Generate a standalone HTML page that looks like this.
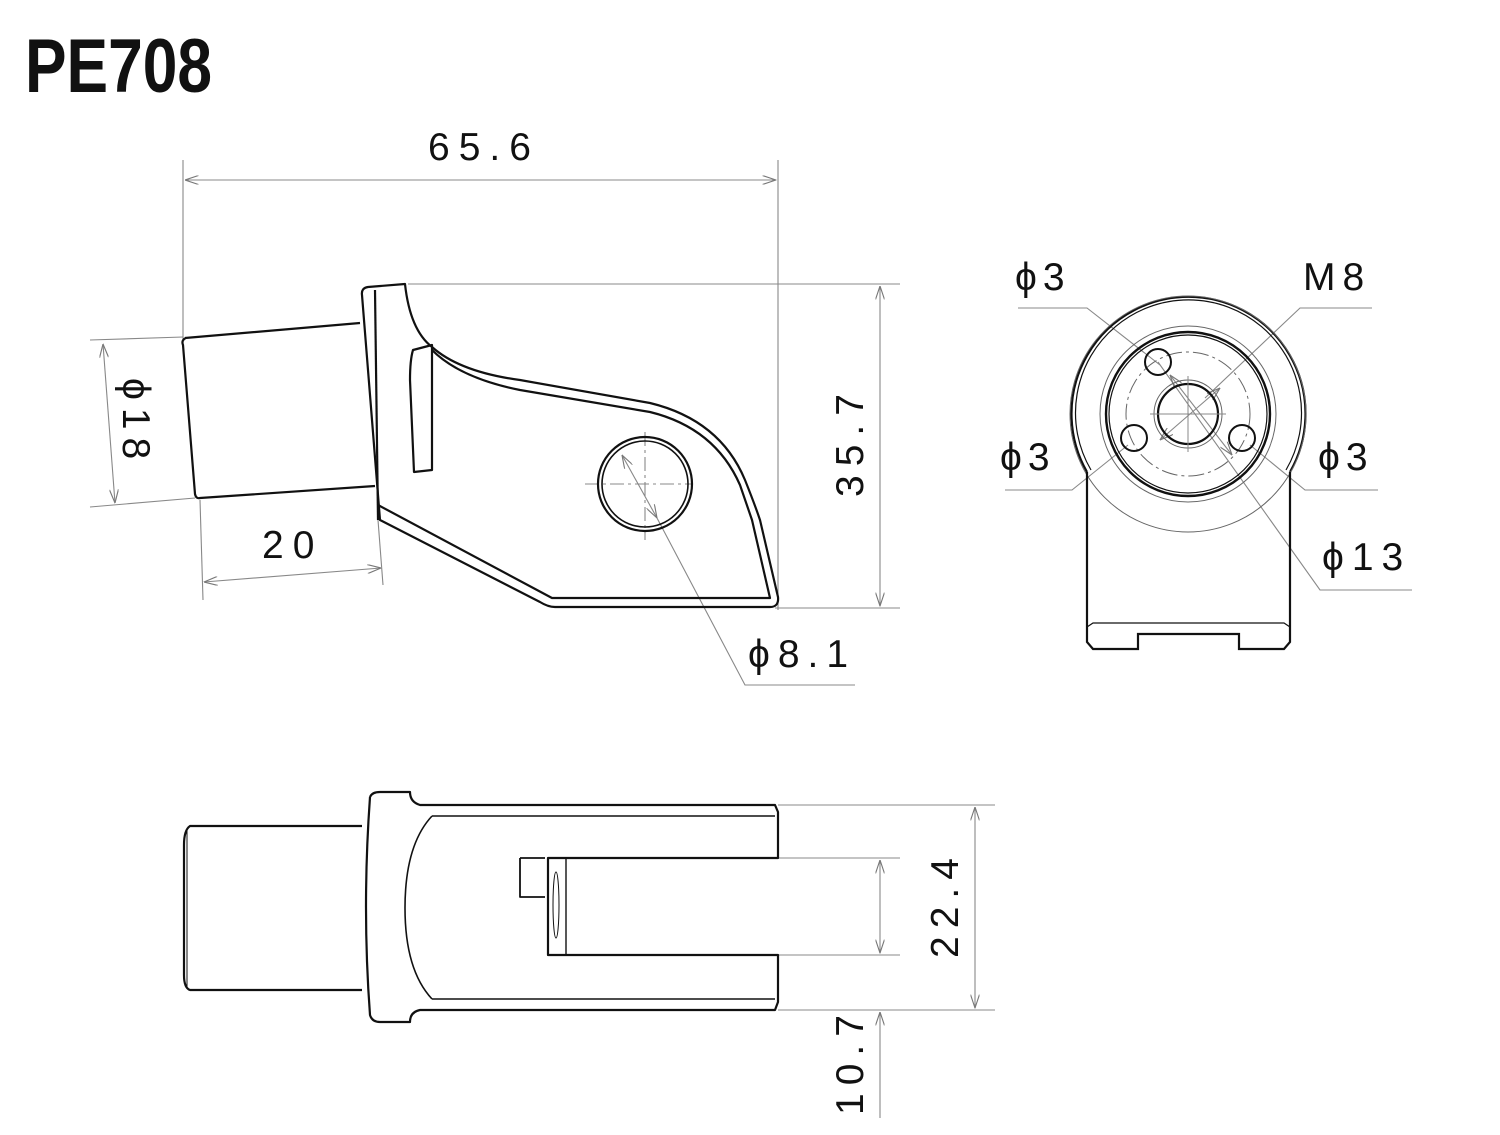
<!DOCTYPE html>
<html><head><meta charset="utf-8"><style>
html,body{margin:0;padding:0;background:#fff;}
svg{display:block}
text{font-family:"Liberation Sans",sans-serif;fill:#111}
</style></head><body>
<svg width="1500" height="1135" viewBox="0 0 1500 1135" xmlns="http://www.w3.org/2000/svg">
<defs>
<marker id="a" viewBox="0 0 12 8" refX="12" refY="4" markerWidth="14" markerHeight="9" orient="auto-start-reverse" markerUnits="userSpaceOnUse"><path d="M0,0 L12,4 L0,8" fill="none" stroke="#777" stroke-width="1"/></marker>
</defs>
<text x="25" y="92" font-size="76" font-weight="bold" textLength="187" lengthAdjust="spacingAndGlyphs">PE708</text>

<g stroke="#888" stroke-width="1.1" fill="none">
<line x1="183" y1="160" x2="183" y2="340"/>
<line x1="778" y1="160" x2="778" y2="610"/>
<line x1="185" y1="180" x2="776" y2="180" marker-start="url(#a)" marker-end="url(#a)"/>
<line x1="408" y1="284" x2="900" y2="284"/>
<line x1="775" y1="608" x2="900" y2="608"/>
<line x1="880" y1="286" x2="880" y2="606" marker-start="url(#a)" marker-end="url(#a)"/>
<line x1="90" y1="340" x2="183" y2="337"/>
<line x1="90" y1="507" x2="195" y2="498"/>
<line x1="103" y1="344" x2="115" y2="503" marker-start="url(#a)" marker-end="url(#a)"/>
<line x1="200" y1="500" x2="203" y2="600"/>
<line x1="378" y1="520" x2="383" y2="585"/>
<line x1="204" y1="582" x2="381" y2="568" marker-start="url(#a)" marker-end="url(#a)"/>
<line x1="622" y1="455" x2="657" y2="518" marker-start="url(#a)" marker-end="url(#a)"/>
<polyline points="657,518 745,685 855,685"/>
<line x1="585" y1="484" x2="692" y2="484" stroke-dasharray="14,4,3,4"/>
<line x1="645" y1="432" x2="645" y2="540" stroke-dasharray="14,4,3,4"/>

<polyline points="1018,308 1087,308 1160,365"/>
<polyline points="1372,308 1300,308 1205,398"/>
<polyline points="1005,490 1072,490 1128,445"/>
<polyline points="1378,490 1305,490 1250,445"/>
<polyline points="1158,362 1320,590 1412,590"/>
<line x1="1170" y1="375" x2="1232" y2="455" marker-start="url(#a)" marker-end="url(#a)"/>
<line x1="1160" y1="440" x2="1220" y2="388" marker-start="url(#a)" marker-end="url(#a)"/>

<line x1="778" y1="805" x2="995" y2="805"/>
<line x1="778" y1="1010" x2="995" y2="1010"/>
<line x1="975" y1="807" x2="975" y2="1008" marker-start="url(#a)" marker-end="url(#a)"/>
<line x1="778" y1="858" x2="900" y2="858"/>
<line x1="778" y1="955" x2="900" y2="955"/>
<line x1="880" y1="860" x2="880" y2="953" marker-start="url(#a)" marker-end="url(#a)"/>
<line x1="880" y1="1012" x2="880" y2="1118" marker-start="url(#a)"/>
</g>

<g stroke="#111" stroke-width="2.2" fill="none" stroke-linejoin="round">
<path d="M185,338 L360,323 M186,338 Q181,340 183,345 L195,494 Q196,499 200,498 L375,486"/>
<path d="M362,295 Q361,288 368,287 L405,284 Q410,330 432,347 Q460,372 520,380 L650,403 Q720,420 745,480 Q755,505 760,520 L778,597 Q779,607 770,607 L555,607 Q548,607 540,602 L380,520 L362,295"/>
<path d="M432,350 Q460,378 520,390 L650,412 Q715,428 740,485 L752,520 L770,598 L552,598 L378,505"/>
<path d="M413,350 Q410,360 410,380 L414,472 L432,470 L432,345 Z"/>
<line x1="375" y1="290" x2="378" y2="520"/>
<circle cx="645" cy="484" r="47"/>
<circle cx="645" cy="484" r="43" stroke-width="1.6"/>
</g>

<g stroke="#111" fill="none">
<path d="M1087,472 A117,117 0 1 1 1290,472" stroke-width="2.2"/>
<path d="M1091,470 A113,113 0 1 1 1286,470" stroke-width="1.2"/>
<circle cx="1188" cy="414" r="118" stroke-width="1" stroke="#666"/>
<circle cx="1188" cy="414" r="88" stroke-width="1" stroke="#666"/>
<circle cx="1188" cy="414" r="82" stroke-width="2.4"/>
<circle cx="1188" cy="414" r="79" stroke-width="1.2"/>
<circle cx="1188" cy="414" r="62" stroke-width="1" stroke="#666" stroke-dasharray="16,4,3,4"/>
<circle cx="1188" cy="414" r="30" stroke-width="2.2"/>
<circle cx="1188" cy="414" r="34" stroke-width="1" stroke="#666"/>
<circle cx="1158" cy="362" r="13" stroke-width="2"/>
<circle cx="1134" cy="438" r="13" stroke-width="2"/>
<circle cx="1242" cy="438" r="13" stroke-width="2"/>
<path d="M1087,472 L1087,642 L1093,649 L1138,649 L1138,634 L1239,634 L1239,649 L1284,649 L1290,642 L1290,472" stroke-width="2.2"/>
<path d="M1087,627 L1093,623 L1284,623 L1290,627" stroke-width="1.2"/>
<g stroke="#888" stroke-width="1"><line x1="1150" y1="414" x2="1226" y2="414"/><line x1="1188" y1="376" x2="1188" y2="452"/></g>
</g>

<g stroke="#111" stroke-width="2.2" fill="none" stroke-linejoin="round">
<path d="M362,826 L190,826 Q184,830 184,845 L184,975 Q184,988 190,990 L362,990"/>
<line x1="187" y1="828" x2="187" y2="988" stroke-width="1"/>
<path d="M370,797 Q372,792 380,792 L410,792 Q410,802 420,805 L432,805 L775,805 L778,812 L778,858 L548,858 L548,955 L778,955 L778,1002 L775,1010 L432,1010 L420,1010 Q410,1012 410,1022 L380,1022 Q372,1022 370,1015 Q362,908 370,797"/>
<line x1="432" y1="816" x2="775" y2="816" stroke-width="1.6"/>
<line x1="432" y1="999" x2="775" y2="999" stroke-width="1.6"/>
<path d="M432,816 Q405,845 405,908 Q405,970 432,999" stroke-width="1.6"/>
<path d="M520,858 L545,858 M520,858 L520,897 L545,897" stroke-width="1.8"/>
<line x1="566" y1="858" x2="566" y2="955" stroke-width="1.4"/>
<ellipse cx="556" cy="905" rx="3" ry="33" stroke-width="1"/>
</g>

<g font-size="39">
<text x="428" y="160" letter-spacing="9">65.6</text>
<text x="262" y="558" letter-spacing="9">20</text>
<text x="748" y="667" letter-spacing="8">ϕ8.1</text>
<text transform="translate(863,497) rotate(-90)" letter-spacing="9">35.7</text>
<text transform="translate(123,378) rotate(90)" letter-spacing="8">ϕ18</text>
<text x="1015" y="290" letter-spacing="6">ϕ3</text>
<text x="1303" y="290" letter-spacing="7">M8</text>
<text x="1000" y="470" letter-spacing="6">ϕ3</text>
<text x="1318" y="470" letter-spacing="6">ϕ3</text>
<text x="1322" y="570" letter-spacing="8">ϕ13</text>
<text transform="translate(958,958) rotate(-90)" letter-spacing="8">22.4</text>
<text transform="translate(863,1115) rotate(-90)" letter-spacing="8">10.7</text>
</g>
</svg>
</body></html>
